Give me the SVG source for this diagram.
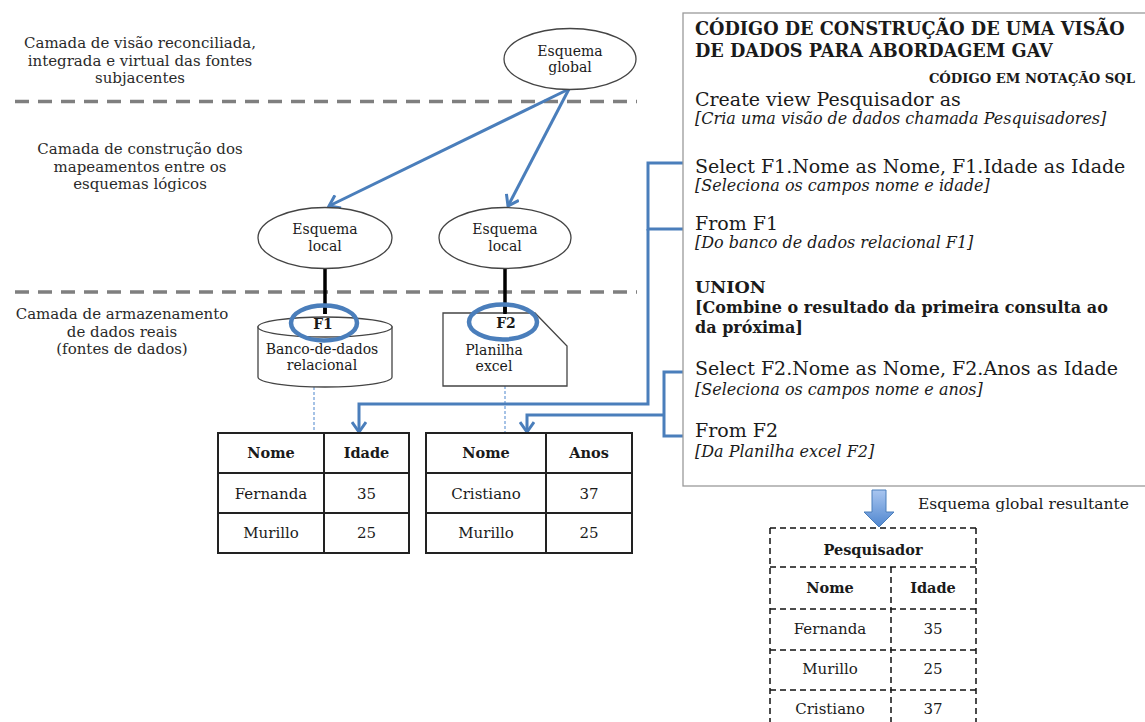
<svg xmlns="http://www.w3.org/2000/svg" width="1145" height="722" viewBox="0 0 1145 722">
  <defs>
    <style>
      text { font-family: "DejaVu Serif", "Liberation Serif", serif; fill: #1a1a1a; }
      .layer { font-size: 15px; text-anchor: middle; fill: #2a2a2a; }
      .node { font-size: 14px; text-anchor: middle; }
      .cell { font-size: 15px; text-anchor: middle; }
      .head { font-size: 14.5px; font-weight: bold; text-anchor: middle; }
      .bold { font-weight: bold; }
      .code { font-size: 19px; }
      .note { font-size: 16px; font-style: italic; }
      .sep { stroke: #7f7f7f; stroke-width: 3.5; stroke-dasharray: 14 9; fill: none; }
      .shape { fill: #fff; stroke: #444; stroke-width: 1.3; }
      .grid { fill: none; stroke: #222; stroke-width: 2; }
      .dgrid { stroke: #111; stroke-width: 1.5; stroke-dasharray: 6 4; fill: none; }
      .flow { fill: none; stroke: #4a7ebb; stroke-width: 3; }
      .tag { fill: none; stroke: #4a7ebb; stroke-width: 4.5; }
      .link { stroke: #000; stroke-width: 3.5; }
      .dot { stroke: #6a9ad6; stroke-width: 1.2; stroke-dasharray: 3 2; }
    </style>
    <marker id="open" viewBox="-12 -8 14 16" refX="0" refY="0" markerWidth="14" markerHeight="16" markerUnits="userSpaceOnUse" orient="auto">
      <path d="M-10,-7 L0,0 L-10,7" fill="none" stroke="#4a7ebb" stroke-width="3"/>
    </marker>
    <linearGradient id="blockFill" x1="0" y1="0" x2="0" y2="1">
      <stop offset="0" stop-color="#a9c6f0"/>
      <stop offset="1" stop-color="#4f86cf"/>
    </linearGradient>
  </defs>

  <!-- layer separators -->
  <g id="separators">
    <line class="sep" x1="15" y1="101.5" x2="637" y2="101.5"/>
    <line class="sep" x1="15" y1="292" x2="637" y2="292"/>
  </g>

  <!-- layer captions -->
  <g id="layer-labels">
    <text class="layer" x="140" y="48">Camada de visão reconciliada,</text>
    <text class="layer" x="140" y="66">integrada e virtual das fontes</text>
    <text class="layer" x="140" y="83">subjacentes</text>
    <text class="layer" x="140" y="154">Camada de construção dos</text>
    <text class="layer" x="140" y="172">mapeamentos entre os</text>
    <text class="layer" x="140" y="189">esquemas lógicos</text>
    <text class="layer" x="122" y="319">Camada de armazenamento</text>
    <text class="layer" x="122" y="337">de dados reais</text>
    <text class="layer" x="122" y="354">(fontes de dados)</text>
  </g>

  <!-- connectors -->
  <g id="connectors">
    <line class="flow" x1="569" y1="89" x2="329" y2="206" marker-end="url(#open)"/>
    <line class="flow" x1="569" y1="89" x2="508" y2="206" marker-end="url(#open)"/>
    <line class="link" x1="325" y1="268" x2="325" y2="314"/>
    <line class="link" x1="505" y1="268" x2="505" y2="314"/>
    <line class="dot" x1="314" y1="387" x2="314" y2="433"/>
    <line class="dot" x1="505" y1="386" x2="505" y2="433"/>
    <!-- bracket from F1 statements to first table -->
    <polyline class="flow" points="683,163 648,163 648,229 683,229"/>
    <polyline class="flow" points="648,229 648,404 359,404 359,432" marker-end="url(#open)"/>
    <!-- bracket from F2 statements to second table -->
    <polyline class="flow" points="683,372 664,372 664,436 683,436"/>
    <polyline class="flow" points="664,415 527,415 527,432" marker-end="url(#open)"/>
  </g>

  <g id="global-schema">
    <ellipse class="shape" cx="570" cy="59" rx="66" ry="30.5"/>
    <text class="node" x="570" y="56">Esquema</text>
    <text class="node" x="570" y="72">global</text>
  </g>

  <g id="local-schema-1">
    <ellipse class="shape" cx="325" cy="238" rx="67" ry="30.5"/>
    <text class="node" x="325" y="234">Esquema</text>
    <text class="node" x="325" y="251">local</text>
  </g>

  <g id="local-schema-2">
    <ellipse class="shape" cx="505" cy="238" rx="66" ry="30.5"/>
    <text class="node" x="505" y="234">Esquema</text>
    <text class="node" x="505" y="251">local</text>
  </g>

  <g id="source-f1">
    <path class="shape" d="M258,327 L258,377 A67,10 0 0 0 392,377 L392,327 Z"/>
    <ellipse class="shape" cx="325" cy="327" rx="67" ry="10"/>
    <line class="link" x1="325" y1="305" x2="325" y2="314"/>
    <text class="node bold" x="323" y="329">F1</text>
    <ellipse class="tag" cx="324" cy="323" rx="33" ry="17.5"/>
    <text class="node" x="322" y="354">Banco-de-dados</text>
    <text class="node" x="322" y="370">relacional</text>
  </g>

  <g id="source-f2">
    <path class="shape" d="M443,313 L535,313 L567,346 L567,386 L443,386 Z"/>
    <line class="link" x1="505" y1="305" x2="505" y2="314"/>
    <text class="node bold" x="506" y="328">F2</text>
    <ellipse class="tag" cx="503" cy="322" rx="34" ry="17.5"/>
    <text class="node" x="494" y="355">Planilha</text>
    <text class="node" x="494" y="371">excel</text>
  </g>

  <g id="table-f1">
    <rect class="grid" x="218" y="433" width="191" height="120"/>
    <line class="grid" x1="324" y1="433" x2="324" y2="553"/>
    <line class="grid" x1="218" y1="473" x2="409" y2="473"/>
    <line class="grid" x1="218" y1="513" x2="409" y2="513"/>
    <text class="head" x="271" y="458">Nome</text>
    <text class="head" x="366.5" y="458">Idade</text>
    <text class="cell" x="271" y="499">Fernanda</text>
    <text class="cell" x="366.5" y="499">35</text>
    <text class="cell" x="271" y="538">Murillo</text>
    <text class="cell" x="366.5" y="538">25</text>
  </g>

  <g id="table-f2">
    <rect class="grid" x="426" y="433" width="206" height="120"/>
    <line class="grid" x1="546" y1="433" x2="546" y2="553"/>
    <line class="grid" x1="426" y1="473" x2="632" y2="473"/>
    <line class="grid" x1="426" y1="513" x2="632" y2="513"/>
    <text class="head" x="486" y="458">Nome</text>
    <text class="head" x="589" y="458">Anos</text>
    <text class="cell" x="486" y="499">Cristiano</text>
    <text class="cell" x="589" y="499">37</text>
    <text class="cell" x="486" y="538">Murillo</text>
    <text class="cell" x="589" y="538">25</text>
  </g>

  <g id="code-box">
    <rect x="683" y="13" width="470" height="473" fill="#fff" stroke="#9a9a9a" stroke-width="1.3"/>
    <text class="bold" x="695" y="35" font-size="17.7">CÓDIGO DE CONSTRUÇÃO DE UMA VISÃO</text>
    <text class="bold" x="695" y="57" font-size="17.7">DE DADOS PARA ABORDAGEM GAV</text>
    <text class="bold" x="1135" y="83" font-size="13.2" text-anchor="end">CÓDIGO EM NOTAÇÃO SQL</text>
    <text class="code" x="695" y="106">Create view Pesquisador as</text>
    <text class="note" x="695" y="124">[Cria uma visão de dados chamada Pesquisadores]</text>
    <text class="code" x="695" y="173">Select F1.Nome as Nome, F1.Idade as Idade</text>
    <text class="note" x="695" y="191">[Seleciona os campos nome e idade]</text>
    <text class="code" x="695" y="230">From F1</text>
    <text class="note" x="695" y="248">[Do banco de dados relacional F1]</text>
    <text class="bold" x="695" y="293" font-size="17.5">UNION</text>
    <text class="bold" x="695" y="313" font-size="16">[Combine o resultado da primeira consulta ao</text>
    <text class="bold" x="695" y="333" font-size="16">da próxima]</text>
    <text class="code" x="695" y="375">Select F2.Nome as Nome, F2.Anos as Idade</text>
    <text class="note" x="695" y="395">[Seleciona os campos nome e anos]</text>
    <text class="code" x="695" y="437">From F2</text>
    <text class="note" x="695" y="457">[Da Planilha excel F2]</text>
  </g>

  <g id="result-arrow">
    <path d="M872,490 L886,490 L886,512 L894,512 L879,527 L864,512 L872,512 Z" fill="url(#blockFill)" stroke="#4a7ebb" stroke-width="1"/>
    <text x="918" y="509" font-size="15.5">Esquema global resultante</text>
  </g>

  <g id="result-table">
    <line class="dgrid" x1="770" y1="528" x2="976" y2="528"/>
    <line class="dgrid" x1="770" y1="567" x2="976" y2="567"/>
    <line class="dgrid" x1="770" y1="609" x2="976" y2="609"/>
    <line class="dgrid" x1="770" y1="650" x2="976" y2="650"/>
    <line class="dgrid" x1="770" y1="690" x2="976" y2="690"/>
    <line class="dgrid" x1="770" y1="528" x2="770" y2="730"/>
    <line class="dgrid" x1="976" y1="528" x2="976" y2="730"/>
    <line class="dgrid" x1="891" y1="567" x2="891" y2="730"/>
    <text class="head" x="873" y="555" font-size="15">Pesquisador</text>
    <text class="head" x="830" y="593" font-size="15">Nome</text>
    <text class="head" x="933" y="593" font-size="15">Idade</text>
    <text class="cell" x="830" y="634">Fernanda</text>
    <text class="cell" x="933" y="634">35</text>
    <text class="cell" x="830" y="674">Murillo</text>
    <text class="cell" x="933" y="674">25</text>
    <text class="cell" x="830" y="714">Cristiano</text>
    <text class="cell" x="933" y="714">37</text>
  </g>
</svg>
